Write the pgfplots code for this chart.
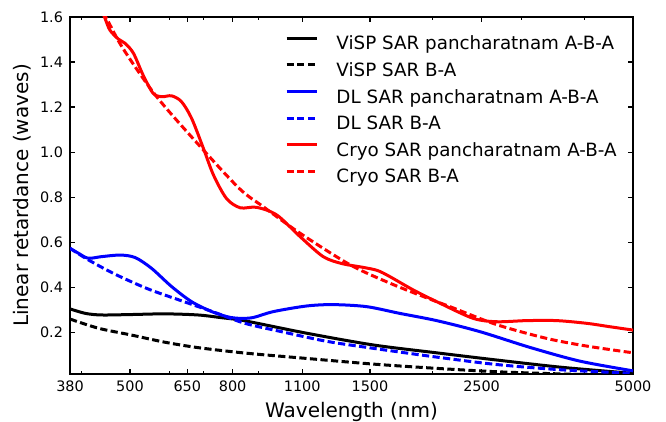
\documentclass[border=0pt]{standalone}
\usepackage{fontspec}
\setmainfont{DejaVu Sans}
\usepackage{pgfplots}
\pgfplotsset{compat=1.18}
\begin{document}
\begin{tikzpicture}
\begin{axis}[
  scale only axis, width=281.5pt, height=178.5pt,
  xmode=log, xmin=380, xmax=5000, ymin=0.015, ymax=1.6,
  xtick={380,500,650,800,1100,1500,2500,5000},
  xticklabels={380,500,650,800,1100,1500,2500,5000},
  minor xtick={400,600,700,900,2000,3000,4000},
  ytick={0.2,0.4,0.6,0.8,1.0,1.2,1.4,1.6},
  yticklabels={0.2,0.4,0.6,0.8,1.0,1.2,1.4,1.6},
  /pgf/number format/assume math mode=true,
  tick label style={font=\fontsize{7.2}{8}\selectfont},
  label style={font=\fontsize{9.15}{11}\selectfont},
  xlabel={Wavelength (nm)}, ylabel={Linear retardance (waves)},
  every axis x label/.style={at={(axis description cs:0.5,-0.1232)}, anchor=base},
  every axis y label/.style={at={(axis description cs:-0.0746,0.5)}, rotate=90, anchor=base},
  axis line style={line width=1pt},
  major tick length=2.5pt, minor tick length=1.5pt,
  tick style={line width=0.6pt, black},
  legend cell align=left,
  legend style={draw=none, fill=none, at={(axis description cs:0.382,0.9468)}, anchor=north west,
    inner sep=0pt, outer sep=0pt, row sep=4.3pt, font=\fontsize{9.15}{11}\selectfont,
    nodes={inner sep=0pt, text height=7pt, text depth=2pt},
    /tikz/every odd column/.append style={column sep=9.2pt}},
  legend image code/.code={\draw[#1] (0pt,3.35pt) -- (15pt,3.35pt);},
  sol/.style={line width=1.5pt, smooth},
  das/.style={line width=1.5pt, smooth, dash pattern=on 3.6pt off 1.7pt},
]
% ViSP
\addplot[sol, black] coordinates {(380,0.304)(408,0.284)(439,0.277)(503,0.279)(587,0.282)(683,0.277)(760,0.265)(846,0.251)(1123,0.196)(1522,0.144)(2035,0.109)(2680,0.077)(3636,0.044)(5000,0.018)};
\addlegendentry{ViSP SAR pancharatnam A-B-A}
\addplot[das, black] coordinates {(380,0.259)(433,0.218)(503,0.188)(587,0.156)(683,0.132)(846,0.108)(1123,0.084)(1522,0.059)(2035,0.040)(2680,0.025)(3636,0.015)(5000,0.008)};
\addlegendentry{ViSP SAR B-A}
% DL
\addplot[sol, blue] coordinates {(380,0.573)(395,0.551)(413,0.529)(439,0.536)(478,0.543)(512,0.532)(552,0.484)(605,0.403)(663,0.336)(727,0.292)(785,0.268)(830,0.262)(880,0.266)(964,0.292)(1123,0.317)(1268,0.323)(1477,0.314)(1720,0.284)(2035,0.252)(2481,0.203)(3120,0.133)(3923,0.072)(5000,0.029)};
\addlegendentry{DL SAR pancharatnam A-B-A}
\addplot[das, blue] coordinates {(380,0.573)(413,0.522)(467,0.458)(544,0.392)(633,0.340)(738,0.288)(846,0.240)(1000,0.203)(1231,0.160)(1522,0.129)(2035,0.090)(2680,0.057)(3636,0.033)(5000,0.018)};
\addlegendentry{DL SAR B-A}
% Cryo
\addplot[sol, red] coordinates {(430,1.68)(446,1.594)(456,1.542)(474,1.502)(489,1.483)(508,1.439)(531,1.342)(556,1.261)(578,1.246)(605,1.250)(633,1.224)(663,1.150)(700,1.016)(733,0.898)(778,0.794)(828,0.753)(893,0.755)(979,0.721)(1089,0.625)(1211,0.536)(1320,0.505)(1440,0.490)(1550,0.475)(1644,0.447)(1829,0.388)(2067,0.329)(2406,0.262)(2680,0.247)(3071,0.252)(3527,0.252)(4044,0.240)(4492,0.225)(5000,0.210)};
\addlegendentry{Cryo SAR pancharatnam A-B-A}
\addplot[das, red] coordinates {(420,1.70)(449,1.594)(484,1.461)(565,1.246)(700,1.009)(828,0.835)(920,0.758)(1089,0.640)(1369,0.500)(1644,0.418)(1950,0.352)(2163,0.314)(2680,0.234)(3367,0.173)(4044,0.139)(5000,0.109)};
\addlegendentry{Cryo SAR B-A}
\end{axis}
\pgfresetboundingbox
\path ([shift={(-35pt,-24pt)}]current axis.south west) rectangle ([shift={(16.5pt,8.5pt)}]current axis.north east);
\end{tikzpicture}
\end{document}
